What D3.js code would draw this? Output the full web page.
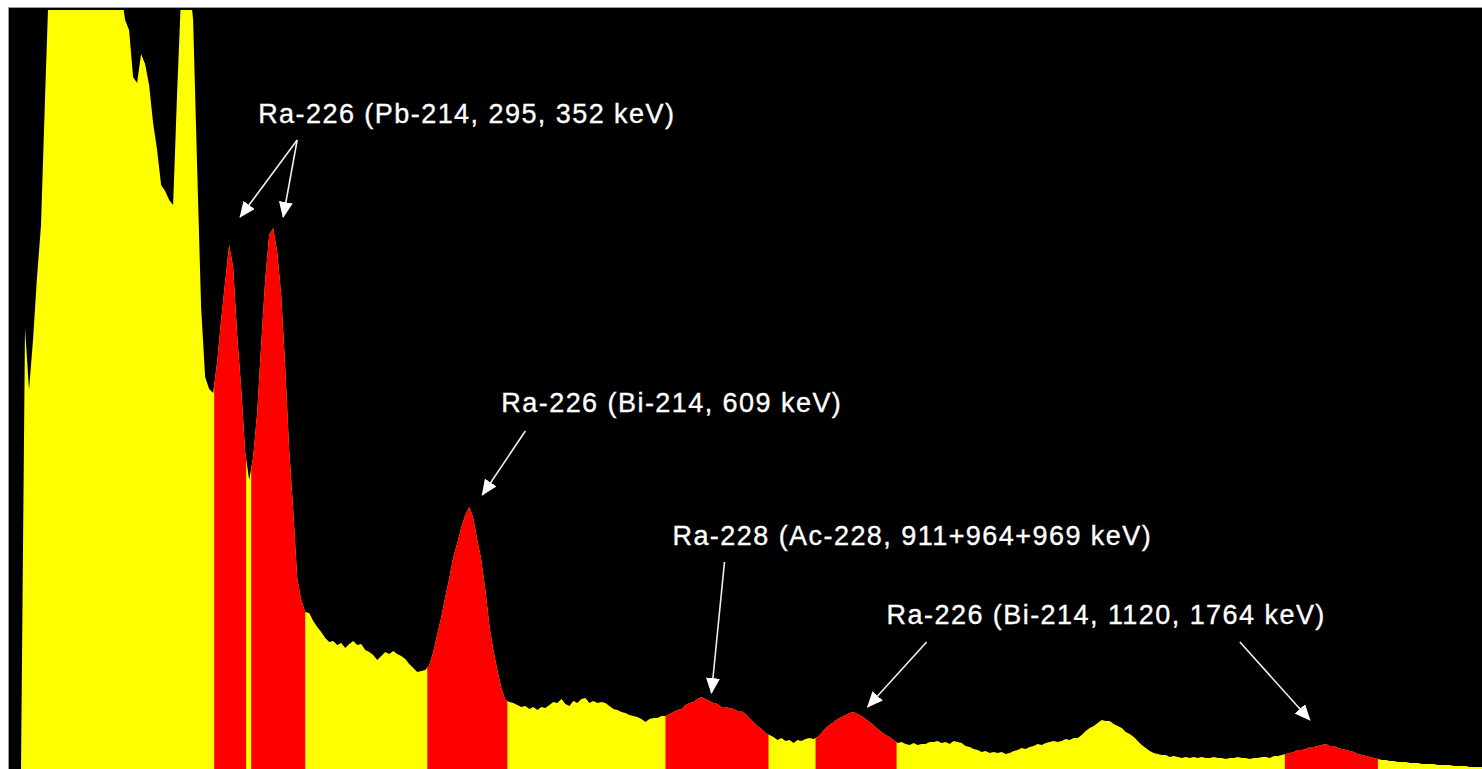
<!DOCTYPE html>
<html>
<head>
<meta charset="utf-8">
<script src="https://cdn.jsdelivr.net/npm/d3@7"></script>
<style>
    html, body { margin: 0; padding: 0; background: #fff; overflow: hidden; }
</style>
</head>
<body>
<div id="spectrum"></div>
<script>
// gamma spectrum, counts per channel (arbitrary units, top of the plot = 760)
const counts = [
    0, 0, 0, 0, 441, 379, 429, 492, 544, 671, 790, 810, 835, 850, 862, 870, 874, 876, 873, 868,
    860, 850, 840, 828, 815, 805, 795, 785, 778, 749, 739, 692, 686, 715, 705, 684, 646, 619, 584, 578,
    569, 564, 676, 775, 800, 790, 749, 602, 461, 392, 380, 376, 407, 449, 487, 524, 502, 434, 381, 317,
    289, 312, 356, 424, 489, 534, 541, 517, 474, 402, 319, 259, 191, 169, 157, 156, 148, 142, 137, 131,
    127, 128, 124, 126, 121, 125, 128, 124, 125, 119, 117, 114, 109, 113, 117, 115, 118, 115, 113, 110,
    105, 101, 97, 98, 99, 104, 117, 135, 152, 172, 191, 212, 226, 242, 254, 262, 251, 229, 209, 179,
    144, 119, 99, 81, 69, 67, 66, 64, 62, 63, 60, 62, 59, 62, 61, 64, 67, 66, 70, 65,
    63, 68, 66, 70, 71, 66, 68, 66, 67, 66, 63, 60, 59, 57, 56, 54, 53, 52, 50, 47,
    50, 51, 51, 53, 53, 55, 57, 59, 60, 64, 66, 67, 70, 72, 70, 68, 66, 65, 62, 62,
    61, 60, 58, 58, 55, 51, 47, 43, 40, 36, 34, 32, 29, 31, 28, 29, 26, 29, 28, 30,
    31, 30, 32, 36, 41, 44, 47, 50, 52, 54, 56, 57, 55, 53, 50, 47, 44, 40, 37, 34,
    32, 29, 26, 27, 25, 24, 26, 24, 25, 25, 27, 27, 28, 26, 27, 25, 28, 27, 26, 23,
    22, 20, 19, 17, 18, 16, 17, 16, 17, 15, 16, 18, 19, 21, 20, 22, 23, 25, 24, 26,
    27, 28, 27, 28, 30, 29, 31, 31, 34, 38, 41, 43, 46, 49, 48, 48, 45, 43, 41, 37,
    35, 32, 28, 24, 21, 18, 16, 15, 14, 14, 12, 13, 12, 11, 12, 11, 12, 11, 12, 11,
    11, 12, 11, 11, 10, 11, 11, 12, 11, 11, 10, 11, 11, 12, 12, 11, 13, 13, 14, 15,
    16, 17, 19, 19, 20, 22, 22, 23, 24, 25, 23, 23, 21, 20, 19, 18, 17, 15, 14, 13,
    12, 11, 10, 9, 9, 8, 8, 7, 7, 7, 6, 6, 6, 5, 5, 5, 5, 4, 4, 4,
    4, 3, 3, 3, 3, 2, 2, 2, 2
];

// regions of interest (channels)
const roiStart = [51.25, 60.5, 104.5, 164, 201.5, 318.75];
const roiEnd = [59.25, 74, 124.5, 189.75, 221.75, 342];

// labels (channel, count of the baseline)
const labelText = [
    "Ra-226 (Pb-214, 295, 352 keV)",
    "Ra-226 (Bi-214, 609 keV)",
    "Ra-228 (Ac-228, 911+964+969 keV)",
    "Ra-226 (Bi-214, 1120, 1764 keV)"
];
const labelChannel = [62.25, 123, 165.75, 219.25];
const labelCount = [646, 357, 224, 145];

// arrows (from -> to)
const arrowFromChannel = [72, 72, 129, 178.75, 229.25, 307.5];
const arrowFromCount = [629, 629, 338, 207, 127, 127];
const arrowToChannel = [57.75, 68.5, 118.25, 175.5, 214.5, 325];
const arrowToCount = [552, 552, 274, 76, 62, 49];

const canvWidth = 1482;
const canvHeight = 769;
const panelLeft = 9, panelTop = 8;

const svg = d3.select("#spectrum").append("svg")
    .attr("width", canvWidth)
    .attr("height", canvHeight);

const x = d3.scaleLinear().domain([0, counts.length - 1]).range([panelLeft, canvWidth]);
const y = d3.scaleLinear().domain([0, 760]).range([canvHeight, 9]);

// background panel
svg.append("rect")
    .attr("x", panelLeft - 0.5)
    .attr("y", panelTop - 0.5)
    .attr("width", canvWidth - panelLeft + 1)
    .attr("height", canvHeight - panelTop + 1)
    .attr("fill", "#000")
    .attr("stroke", "#9a9a9a")
    .attr("stroke-width", 1);

const defs = svg.append("defs");

defs.append("clipPath").attr("id", "plotClip")
    .append("rect")
    .attr("x", panelLeft)
    .attr("y", 10)
    .attr("width", canvWidth - panelLeft)
    .attr("height", canvHeight - 10);

roiStart.forEach(function (s, i) {
    defs.append("clipPath").attr("id", "roi" + i)
        .append("rect")
        .attr("x", x(s))
        .attr("y", 10)
        .attr("width", x(roiEnd[i]) - x(s))
        .attr("height", canvHeight - 10);
});

defs.append("marker")
    .attr("id", "head")
    .attr("viewBox", "0 0 16 14")
    .attr("refX", 15)
    .attr("refY", 7)
    .attr("markerWidth", 16)
    .attr("markerHeight", 14)
    .attr("markerUnits", "userSpaceOnUse")
    .attr("orient", "auto")
    .append("path")
    .attr("d", "M0,0 L16,7 L0,14 Z")
    .attr("fill", "#fff");

const area = d3.area()
    .x((d, i) => x(i))
    .y0(canvHeight)
    .y1(d => y(d));

const plot = svg.append("g").attr("clip-path", "url(#plotClip)");

// whole spectrum
plot.append("path")
    .datum(counts)
    .attr("d", area)
    .attr("fill", "#ffff00");

// regions of interest
roiStart.forEach(function (s, i) {
    plot.append("g").attr("clip-path", "url(#roi" + i + ")")
        .append("path")
        .datum(counts)
        .attr("d", area)
        .attr("fill", "#ff0000");
});

// arrows
svg.selectAll(".arrow")
    .data(arrowFromChannel)
    .enter().append("line")
    .attr("class", "arrow")
    .attr("x1", (d, i) => x(d))
    .attr("y1", (d, i) => y(arrowFromCount[i]))
    .attr("x2", (d, i) => x(arrowToChannel[i]))
    .attr("y2", (d, i) => y(arrowToCount[i]))
    .attr("stroke", "#eee")
    .attr("stroke-width", 1.6)
    .attr("marker-end", "url(#head)");

// labels
svg.selectAll(".label")
    .data(labelText)
    .enter().append("text")
    .attr("class", "label")
    .attr("x", (d, i) => x(labelChannel[i]))
    .attr("y", (d, i) => y(labelCount[i]))
    .attr("font-family", "Liberation Sans, Arial, sans-serif")
    .attr("font-size", "27px")
    .attr("letter-spacing", "1.45px")
    .attr("fill", "#fff")
    .attr("stroke", "#fff")
    .attr("stroke-width", 0.35)
    .text(d => d);
</script>
</body>
</html>
